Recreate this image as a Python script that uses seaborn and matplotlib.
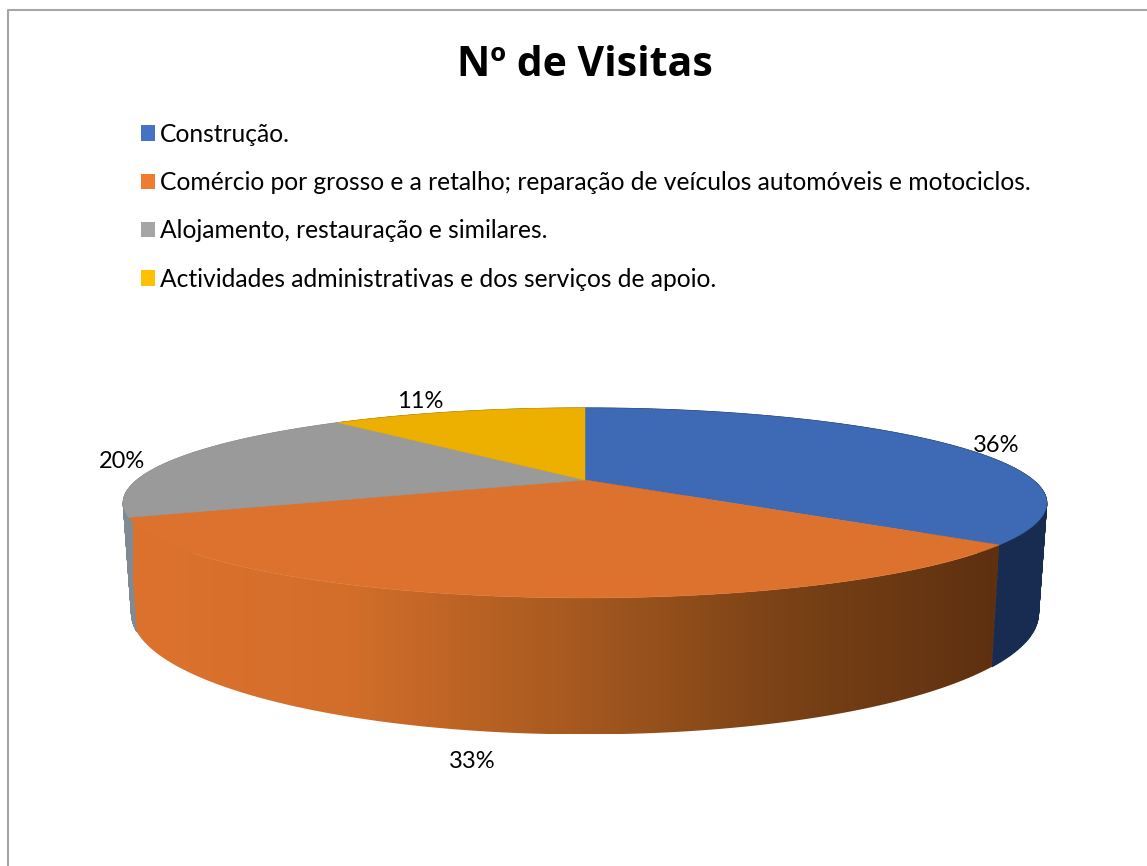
#!/usr/bin/env python3

import numpy as np
import matplotlib.pyplot as plt
import seaborn as sns
from matplotlib.patches import Patch, Polygon

plt.switch_backend('Agg')

# Chart data
title = 'Nº de Visitas'
categories = [
    'Construção.',
    'Comércio por grosso e a retalho; reparação de veículos automóveis e motociclos.',
    'Alojamento, restauração e similares.',
    'Actividades administrativas e dos serviços de apoio.',
]
# labels show these rounded, slice sizes suggest the decimals
values = [35.6, 33.2, 19.9, 11.3]

legend_colors = ['#4472C4', '#ED7D31', '#A5A5A5', '#FFC000']
top_colors = ['#3D69B5', '#DD722E', '#9A9A9A', '#EDB000']
side_colors = ['#182B50', None, '#7F8A94', '#8A6A00']
orange_ramp = ['#DD722E', '#D26E2A', '#A85A20', '#7A4216', '#5E3010']

# Where the value labels sit, in pixels
label_pos = [(996, 445), (472, 761), (122, 462), (420, 401)]

# Perspective of the pie, in pixels
cx, top_y = 585, 480
k = 0.242
top_a, top_b = 448, 89.4
bot_a, bot_b, bot_shift = 440, 114, 104


def project(deg, a, b, shift=0):
    # deg runs clockwise from 12 o'clock
    t = np.radians(deg)
    x, y = np.sin(t), -np.cos(t)
    denom = 1 - k * y
    return cx + a * x / denom, top_y + shift + b * y / denom


def top_point(deg):
    return project(deg, top_a, top_b)


def bottom_point(deg):
    return project(deg, bot_a, bot_b, bot_shift)


sns.set_theme(style='white')
plt.rcParams['font.family'] = ['Lato', 'DejaVu Sans']

fig = plt.figure(figsize=(11.47, 8.66), dpi=100)
ax = fig.add_axes([0, 0, 1, 1])
ax.axis('off')

# Chart frame, only the top and left are inside the crop
ax.plot([8, 8, 1147], [866, 10, 10], color='#A6A6A6', lw=1.5, zorder=1)

ax.text(585, 65, title, ha='center', va='center', fontsize=29.5,
        fontweight='bold', family='Open Sans', color='black')

edges = np.concatenate([[0], np.cumsum(values)]) / np.sum(values) * 360

# Side walls first, the orange one goes over the others
for i in [0, 2, 3, 1]:
    steps = np.linspace(edges[i], edges[i + 1], 240)
    tx, ty = top_point(steps)
    bx, by = bottom_point(steps)
    if side_colors[i] is not None:
        for j in range(len(steps) - 1):
            quad = np.column_stack([[tx[j], tx[j + 1], bx[j + 1], bx[j]],
                                    [ty[j], ty[j + 1], by[j + 1], by[j]]])
            ax.add_patch(Polygon(quad, fc=side_colors[i], ec=side_colors[i], lw=0.8, zorder=2))
    else:
        # shade the wall by screen position, light on the left
        wall = Polygon(np.column_stack([np.r_[tx, bx[::-1]], np.r_[ty, by[::-1]]]),
                       fc='none', ec='none', transform=ax.transData)
        ax.add_patch(wall)
        ramp = np.array(sns.blend_palette(orange_ramp, n_colors=256))[np.newaxis, :, :]
        img = ax.imshow(ramp, extent=(bx.min() - 4, tx.max(), by.max(), ty.min()),
                        aspect='auto', interpolation='bilinear', zorder=3)
        img.set_clip_path(wall)

# Top faces
for i in range(len(values)):
    steps = np.linspace(edges[i], edges[i + 1], 200)
    tx, ty = top_point(steps)
    pts = np.column_stack([np.r_[cx, tx], np.r_[top_y, ty]])
    ax.add_patch(Polygon(pts, fc=top_colors[i], ec=top_colors[i], lw=0.4, zorder=4))

for v, (lx, ly) in zip(values, label_pos):
    ax.text(lx, ly, f'{v:.0f}%', ha='center', va='center', fontsize=17, color='black', zorder=5)

ax.set_xlim(0, 1147)
ax.set_ylim(866, 0)

handles = [Patch(fc=c, ec='none') for c in legend_colors]
ax.legend(handles, categories, loc='upper left', bbox_to_anchor=(121, 103),
          bbox_transform=ax.transData, frameon=False, fontsize=17.7,
          handlelength=0.6, handleheight=0.6, handletextpad=0.2,
          labelspacing=1.03, borderpad=0.3, labelcolor='black')

fig.savefig('out.png', dpi=100)
